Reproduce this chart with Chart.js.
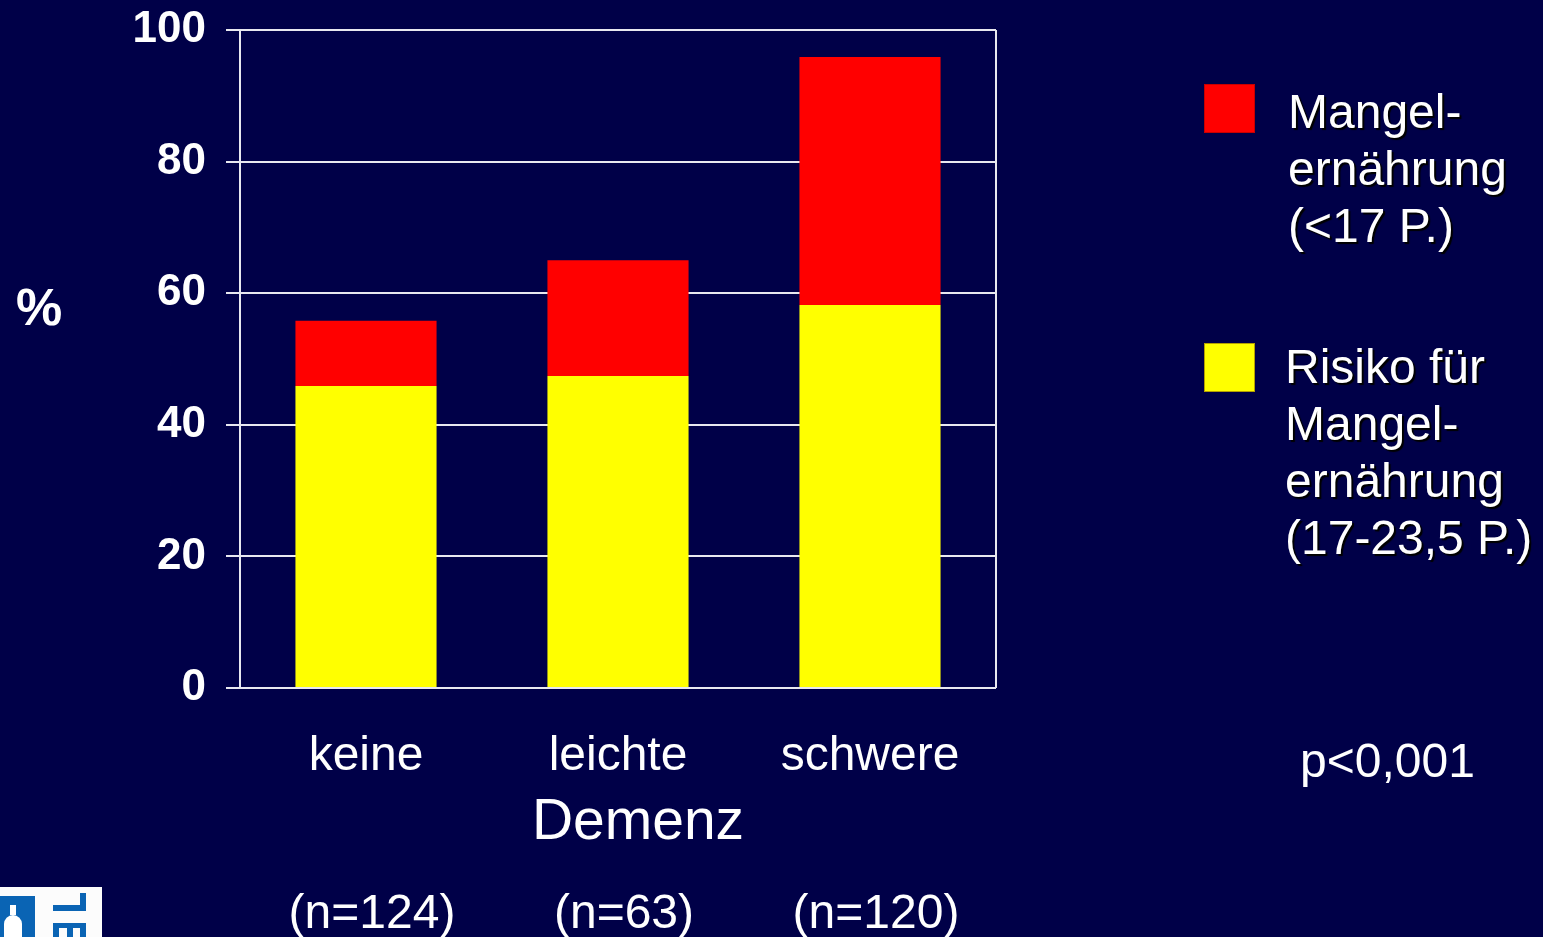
<!DOCTYPE html>
<html>
<head>
<meta charset="utf-8">
<script src="https://cdn.jsdelivr.net/npm/chart.js@4"></script>
<style>
  html, body { margin: 0; padding: 0; background: #000048; overflow: hidden; }
  #wrap { position: relative; width: 1543px; height: 937px; }
  #chart { position: absolute; left: 0; top: 0; }
  .txt { position: absolute; color: #fff; font-family: 'Liberation Sans', Arial, sans-serif; font-size: 48px; line-height: 57px; white-space: nowrap; }
  .shadow { text-shadow: 2px 2px 1px #000; }
  .box { position: absolute; width: 49px; height: 47px; }
  .logo { position: absolute; }
</style>
</head>
<body>
<div id="wrap">
  <canvas id="chart" width="1543" height="937"></canvas>
  <div class="txt" style="left:16px; top:279px; font-weight:bold; font-size:52px;">%</div>
  <div class="txt" style="left:1300px; top:732px;">p&lt;0,001</div>
  <div id="legend"></div>
  <div class="logo" style="left:0; top:887px; width:102px; height:50px; background:#fcfcfc;"></div>
  <div class="logo" style="left:0; top:896px; width:35px; height:41px; background:#0a64b4;"></div>
  <div class="logo" style="left:10px; top:905px; width:6px; height:10px; background:#fff;"></div>
  <div class="logo" style="left:4px; top:915px; width:18px; height:22px; background:#fff; border-radius:9px 9px 0 0;"></div>
  <div class="logo" style="left:53px; top:905px; width:33px; height:6px; background:#0a64b4;"></div>
  <div class="logo" style="left:80px; top:893px; width:6px; height:18px; background:#0a64b4;"></div>
  <div class="logo" style="left:53px; top:923px; width:33px; height:5px; background:#0a64b4;"></div>
  <div class="logo" style="left:53px; top:923px; width:6px; height:14px; background:#0a64b4;"></div>
  <div class="logo" style="left:67px; top:923px; width:6px; height:14px; background:#0a64b4;"></div>
  <div class="logo" style="left:80px; top:923px; width:6px; height:14px; background:#0a64b4;"></div>
</div>
<script>
const categories = ['keine', 'leichte', 'schwere'];
const groupSizes = ['(n=124)', '(n=63)', '(n=120)'];
const risikoValues = [45.9, 47.4, 58.2];
const mangelValues = [9.9, 17.6, 37.7];
const yTicks = [0, 20, 40, 60, 80, 100];

const FONT = "'Liberation Sans', Arial, sans-serif";
const GRID = '#e8e8f0';

// Legend entries, top to bottom as in the slide
const legendItems = [
  { lines: ['Mangel-', 'ernährung', '(<17 P.)'], color: '#ff0000', border: '#c80000', boxTop: 84, textLeft: 1288, textTop: 83 },
  { lines: ['Risiko für', 'Mangel-', 'ernährung', '(17-23,5 P.)'], color: '#ffff00', border: '#b4a000', boxTop: 343, textLeft: 1285, textTop: 338 }
];

const legend = document.getElementById('legend');
legendItems.forEach(item => {
  const box = document.createElement('div');
  box.className = 'box';
  box.style.left = '1204px';
  box.style.top = item.boxTop + 'px';
  box.style.background = item.color;
  box.style.border = '1px solid ' + item.border;
  legend.appendChild(box);

  const t = document.createElement('div');
  t.className = 'txt shadow';
  t.style.left = item.textLeft + 'px';
  t.style.top = item.textTop + 'px';
  t.innerHTML = item.lines.map(l => l.replace('<', '&lt;')).join('<br>');
  legend.appendChild(t);
});

// Right frame line, "Demenz" title and group sizes under the categories
const extras = {
  id: 'extras',
  afterDraw(chart) {
    const { ctx, chartArea } = chart;
    const xs = chart.scales.x;
    ctx.save();
    ctx.strokeStyle = GRID;
    ctx.lineWidth = 2;
    ctx.beginPath();
    ctx.moveTo(chartArea.right, chartArea.top);
    ctx.lineTo(chartArea.right, chartArea.bottom);
    ctx.stroke();

    ctx.fillStyle = '#fff';
    ctx.textAlign = 'center';
    ctx.textBaseline = 'alphabetic';
    ctx.font = '57px ' + FONT;
    ctx.fillText('Demenz', (chartArea.left + chartArea.right) / 2 + 20, chartArea.bottom + 151);

    ctx.font = '48px ' + FONT;
    groupSizes.forEach((s, i) => {
      ctx.fillText(s, xs.getPixelForValue(i) + 6, chartArea.bottom + 240);
    });
    ctx.restore();
  }
};

new Chart(document.getElementById('chart'), {
  type: 'bar',
  data: {
    labels: categories,
    datasets: [
      {
        label: 'Risiko für Mangelernährung (17-23,5 P.)',
        data: risikoValues,
        backgroundColor: '#ffff00',
        barPercentage: 0.56,
        categoryPercentage: 1
      },
      {
        label: 'Mangelernährung (<17 P.)',
        data: mangelValues,
        backgroundColor: '#ff0000',
        barPercentage: 0.56,
        categoryPercentage: 1
      }
    ]
  },
  options: {
    responsive: false,
    animation: false,
    layout: { padding: { top: 30, right: 547, left: 0, bottom: 0 } },
    plugins: { legend: { display: false }, tooltip: { enabled: false } },
    scales: {
      x: {
        stacked: true,
        grid: { display: false },
        border: { display: false },
        ticks: { color: '#fff', font: { family: FONT, size: 48 }, padding: 32, maxRotation: 0 },
        afterFit(scale) { scale.height = 249; }
      },
      y: {
        stacked: true,
        min: 0,
        max: 100,
        afterBuildTicks(scale) { scale.ticks = yTicks.map(v => ({ value: v })); },
        grid: { color: GRID, lineWidth: 2, tickLength: 14 },
        border: { display: true, color: GRID, width: 2 },
        ticks: { color: '#fff', font: { family: FONT, size: 44, weight: 'bold' }, padding: 20 },
        afterFit(scale) {
          scale.width = 240;
          scale.paddingTop = 0;
          scale.paddingBottom = 0;
        }
      }
    }
  },
  plugins: [extras]
});
</script>
</body>
</html>
